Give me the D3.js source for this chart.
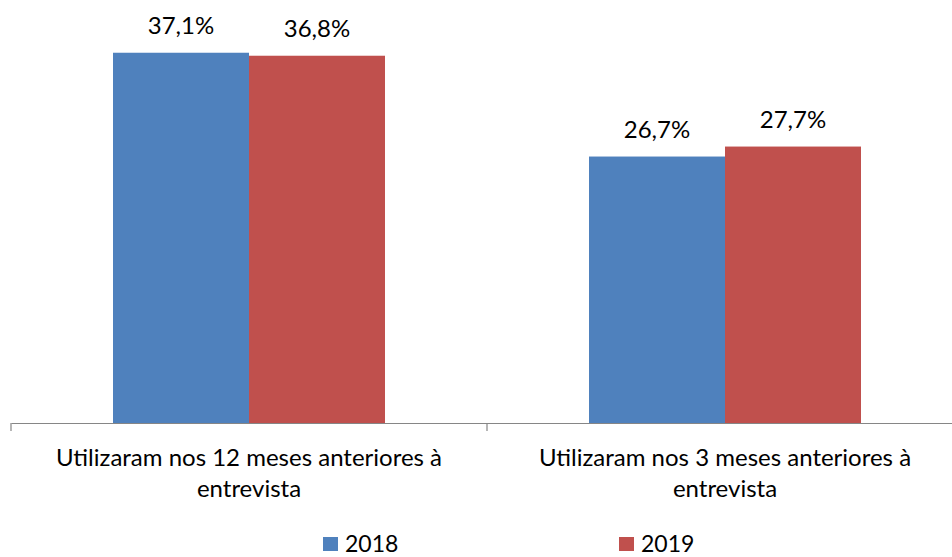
<!DOCTYPE html>
<html>
<head>
<meta charset="utf-8">
<script src="https://cdn.jsdelivr.net/npm/d3@7"></script>
<style>
  html, body { margin: 0; padding: 0; background: #fff; }
  svg { display: block; font-family: Lato, "Open Sans", sans-serif; }
</style>
</head>
<body>
<svg id="chart" width="952" height="557"></svg>
<script>
const categories = [
  ["Utilizaram nos 12 meses anteriores à", "entrevista"],
  ["Utilizaram nos 3 meses anteriores à", "entrevista"]
];
const seriesNames = ["2018", "2019"];
const values2018 = [37.1, 26.7];
const values2019 = [36.8, 27.7];
const seriesColors = ["#4F81BD", "#C0504D"];

const svg = d3.select("#chart");
const baseY = 423, fontSize = 24;

const catKeys = categories.map((c, i) => i);
const x0 = d3.scaleBand().domain(catKeys).range([11, 963]).paddingInner(0).paddingOuter(0);
const x1 = d3.scaleBand().domain(seriesNames).range([0, x0.bandwidth()]).paddingInner(0).paddingOuter(0.75);
const y = d3.scaleLinear().domain([0, 40]).range([baseY, baseY - 399.2]);

const data = seriesNames.map((s, si) => ({
  name: s,
  color: seriesColors[si],
  values: si === 0 ? values2018 : values2019
}));

const fmt = v => d3.format(".1f")(v).replace(".", ",") + "%";

// bars
const groups = svg.append("g").selectAll("g")
  .data(data).join("g");
groups.selectAll("rect")
  .data(d => d.values.map((v, i) => ({ v, i, s: d.name, c: d.color })))
  .join("rect")
  .attr("x", d => x0(d.i) + x1(d.s))
  .attr("y", d => y(d.v))
  .attr("width", x1.bandwidth())
  .attr("height", d => y(0) - y(d.v))
  .attr("fill", d => d.c);

// value labels
groups.selectAll("text")
  .data(d => d.values.map((v, i) => ({ v, i, s: d.name })))
  .join("text")
  .attr("x", d => x0(d.i) + x1(d.s) + x1.bandwidth() / 2)
  .attr("y", d => y(d.v) - 19)
  .attr("text-anchor", "middle")
  .attr("font-size", fontSize)
  .attr("fill", "#000")
  .text(d => fmt(d.v));

// x axis
const axis = d3.axisBottom(x0).tickSize(0).tickFormat("");
const ax = svg.append("g").attr("transform", `translate(0,${baseY})`).call(axis);
ax.select(".domain").attr("stroke", "#868686").attr("stroke-width", 1.2);
const bounds = [x0(0), x0(1), x0(1) + x0.bandwidth()];
ax.selectAll(".bound").data(bounds).join("line")
  .attr("x1", d => d).attr("x2", d => d)
  .attr("y1", 0).attr("y2", 8)
  .attr("stroke", "#868686").attr("stroke-width", 1.2);

// category labels
const catG = svg.append("g");
categories.forEach((lines, i) => {
  const t = catG.append("text")
    .attr("text-anchor", "middle")
    .attr("font-size", fontSize)
    .attr("fill", "#000");
  lines.forEach((ln, j) => {
    t.append("tspan")
      .attr("x", x0(i) + x0.bandwidth() / 2)
      .attr("y", 466 + j * 30.5)
      .text(ln);
  });
});

// legend
const legendX = [323, 619];
const lg = svg.append("g").selectAll("g").data(data).join("g")
  .attr("transform", (d, i) => `translate(${legendX[i]},537)`);
lg.append("rect").attr("width", 15).attr("height", 14).attr("fill", d => d.color);
lg.append("text").attr("x", 22).attr("y", 15)
  .attr("font-size", 23).attr("fill", "#000")
  .text(d => d.name);
</script>
</body>
</html>
